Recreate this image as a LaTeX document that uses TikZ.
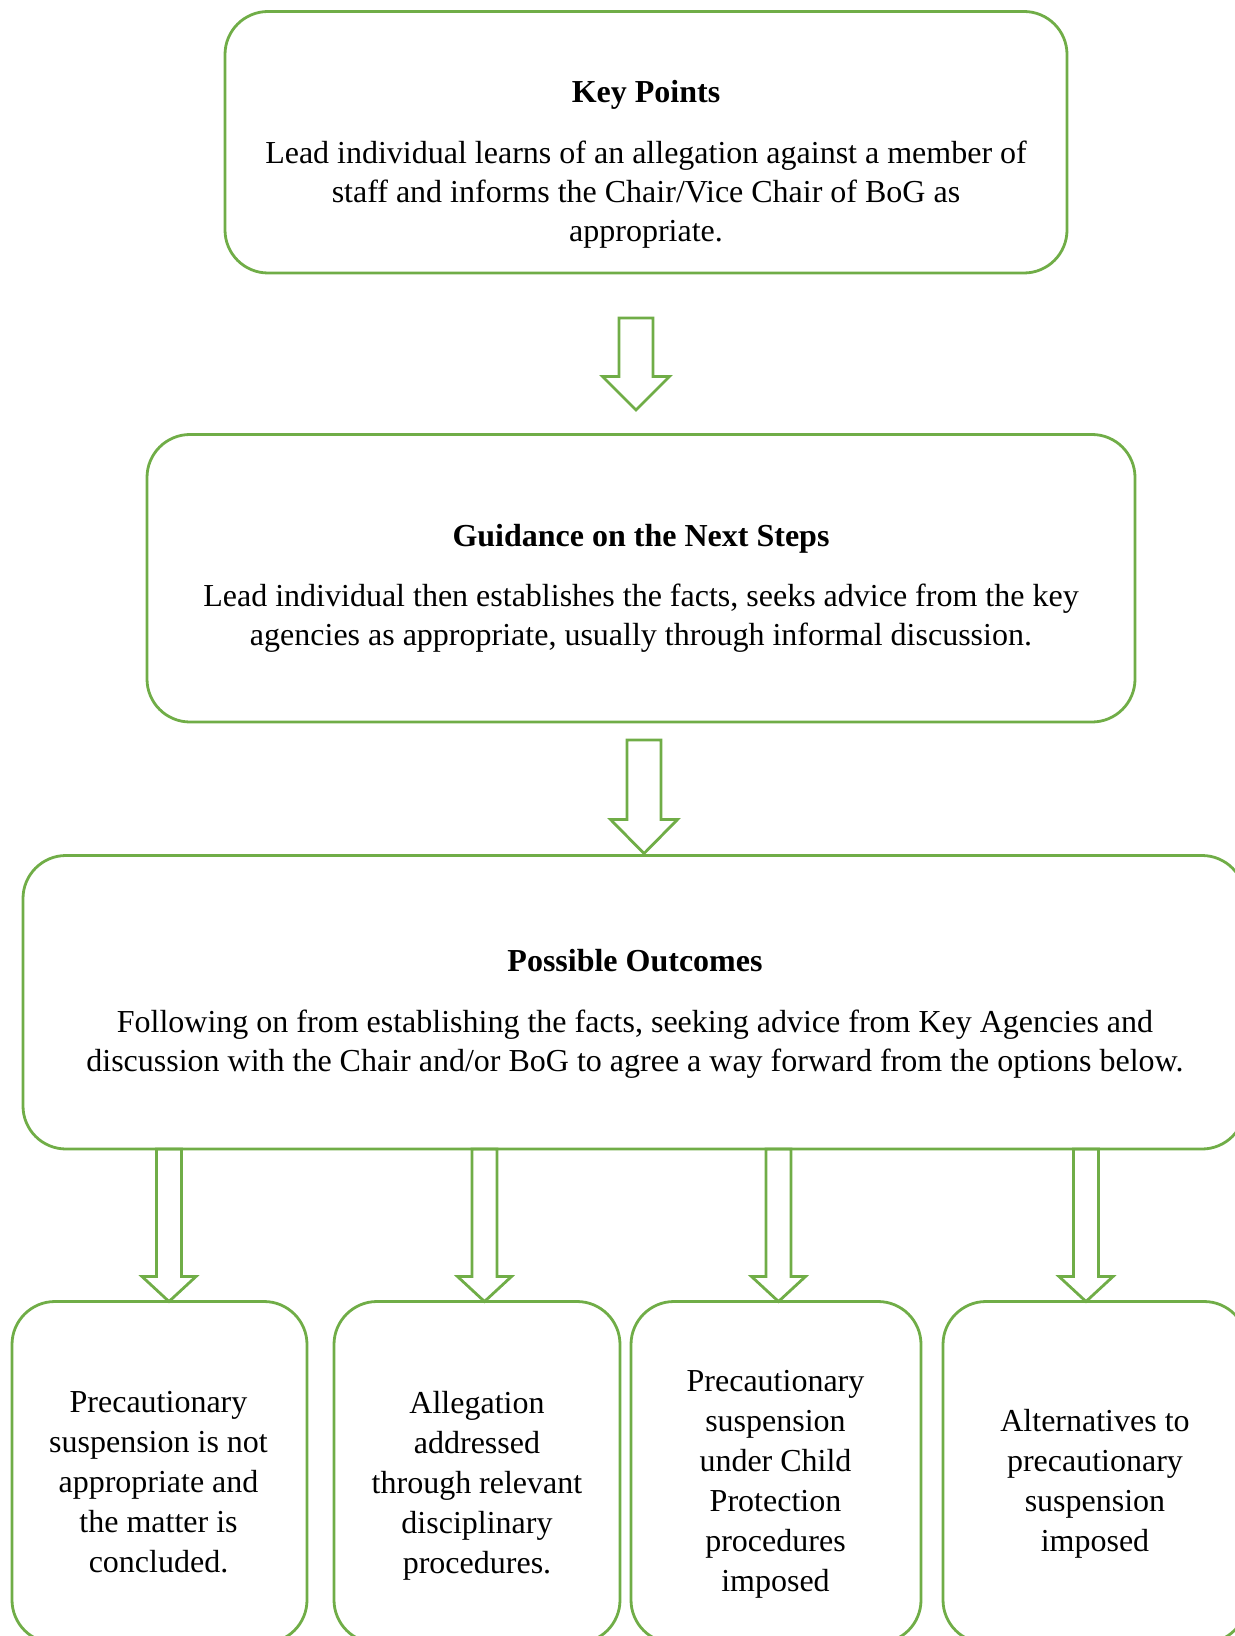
\documentclass[tikz,border=0pt]{standalone}
\usepackage{fontspec}
\setmainfont{Liberation Serif}
\usetikzlibrary{calc,positioning}
\definecolor{leafgreen}{RGB}{112,173,71}

\begin{document}
\begin{tikzpicture}[x=0.5pt,y=-0.5pt,
                    box/.style={draw=leafgreen,line width=1.4pt,rounded corners=21.5pt,
                                inner sep=0pt,outer sep=0pt},
                    boxtext/.style={align=center,inner sep=0pt,
                                    font=\fontsize{16}{19.6}\selectfont},
                    outcometext/.style={boxtext,font=\fontsize{16}{20}\selectfont},
                    blockarrow/.style n args={3}{draw=leafgreen,line width=1.4pt,line join=miter,
                        to path={let \p1=(\tikztostart), \p2=(\tikztotarget) in
                            (\x2-#1,\y1) -- (\x2-#1,\y2+#3) -- (\x2-#2,\y2+#3) -- (\x2,\y2)
                            -- (\x2+#2,\y2+#3) -- (\x2+#1,\y2+#3) -- (\x2+#1,\y1) -- cycle}}]
    \useasboundingbox (0,0) rectangle (1235,1636);
    \clip (0,0) rectangle (1235,1636);

    % the three steps
    \node at (646,142.25)  (kp) [box,minimum width=421pt,minimum height=130.75pt] {};
    \node at (646,164.5)   (kptext) [boxtext]
        {\textbf{Key Points}\\[10.5pt]
         Lead individual learns of an allegation against a member of\\
         staff and informs the Chair/Vice Chair of BoG as\\
         appropriate.};
    \node at (641,578.25)  (ng) [box,minimum width=494pt,minimum height=143.75pt] {};
    \node at (641,588.5)   (ngtext) [boxtext]
        {\textbf{Guidance on the Next Steps}\\[10.5pt]
         Lead individual then establishes the facts, seeks advice from the key\\
         agencies as appropriate, usually through informal discussion.};
    \node at (634,1002.25) (po) [box,minimum width=611pt,minimum height=146.75pt] {};
    \node at (635,1014)    (potext) [boxtext]
        {\textbf{Possible Outcomes}\\[10.5pt]
         Following on from establishing the facts, seeking advice from Key Agencies and\\
         discussion with the Chair and/or BoG to agree a way forward from the options below.};

    % the four outcomes
    \node at (159.5,1472.25) (o1) [box,minimum width=147.5pt,minimum height=170.75pt] {};
    \node at (158.5,1482)    (o1text) [outcometext]
        {Precautionary\\ suspension is not\\ appropriate and\\ the matter is\\ concluded.};
    \node at (477,1472.25)   (o2) [box,minimum width=143pt,minimum height=170.75pt] {};
    \node at (477,1485.5)    (o2text) [outcometext]
        {Allegation\\ addressed\\ through relevant\\ disciplinary\\ procedures.};
    \node at (776,1472.25)   (o3) [box,minimum width=145pt,minimum height=170.75pt] {};
    \node at (775.5,1484)    (o3text) [outcometext]
        {Precautionary\\ suspension\\ under Child\\ Protection\\ procedures\\ imposed};
    \node at (1095,1472.25)  (o4) [box,minimum width=152pt,minimum height=170.75pt] {};
    \node at (1095,1483.5)   (o4text) [outcometext]
        {Alternatives to\\ precautionary\\ suspension\\ imposed};

    % block arrows
    \draw [blockarrow={8.5pt}{16.75pt}{16.75pt}] ([yshift=-22.5pt]kp.south) to ([xshift=-2.5pt,yshift=12.25pt]ng.north);
    \draw [blockarrow={8.5pt}{16.75pt}{17pt}]    ([yshift=-9pt]ng.south)     to ([xshift=5pt,yshift=1pt]po.north);
    \draw [blockarrow={6.25pt}{13.5pt}{12.5pt}]  (po.south) to ([xshift=4.75pt]o1.north);
    \draw [blockarrow={6.25pt}{13.5pt}{12.5pt}]  (po.south) to ([xshift=3.75pt]o2.north);
    \draw [blockarrow={6.25pt}{13.5pt}{12.5pt}]  (po.south) to ([xshift=1.25pt]o3.north);
    \draw [blockarrow={6.25pt}{13.5pt}{12.5pt}]  (po.south) to ([xshift=-4.5pt]o4.north);
\end{tikzpicture}
\end{document}
